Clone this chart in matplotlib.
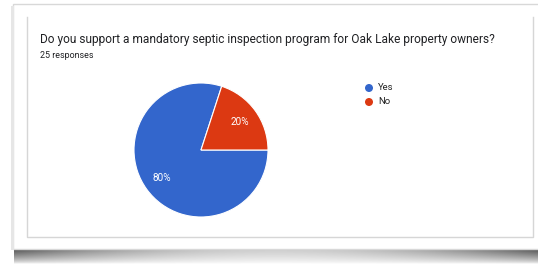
import numpy as np
import matplotlib
matplotlib.use("Agg")
import matplotlib.pyplot as plt
from matplotlib.patches import Rectangle, Circle

title = "Do you support a mandatory septic inspection program for Oak Lake property owners?"
subtitle = "25 responses"
categories = ["Yes", "No"]
values = [80, 20]
colors = ["#3366CC", "#DC3912"]

W, H = 538, 265
fig = plt.figure(figsize=(W / 100, H / 100), dpi=100)
fig.patch.set_facecolor("white")

# background / frame axes in pixel coordinates
bg = fig.add_axes([0, 0, 1, 1])
bg.set_xlim(0, W)
bg.set_ylim(H, 0)
bg.axis("off")

# bottom curled shadow
sh_y0, sh_y1 = 248, 264
xs = np.linspace(0, 1, 400)
ys = np.linspace(0, 1, 40)
X, Y = np.meshgrid(xs, ys)
edge = 0.3 + 0.7 * (np.abs(X - 0.5) * 2) ** 2
vert = np.clip(1 - Y, 0, 1) ** 0.7
dark = edge * vert * 0.7
img = 1 - dark
bg.imshow(img, cmap="gray", vmin=0, vmax=1, extent=(14, W, sh_y1, sh_y0),
          aspect="auto", zorder=0, interpolation="bilinear")

# outer card
bg.add_patch(Rectangle((13, 4), W - 13 + 2, 245, facecolor="white",
                       edgecolor="#d8d8d8", linewidth=1.0, zorder=1))
bg.add_patch(Rectangle((11, 6), 2.5, 244, facecolor="#e6e6e6",
                       edgecolor="none", zorder=1))
# inner card
bg.plot([27, 27, 533, 533], [17, 237, 237, 17], color="#d6d6d6",
        linewidth=1.0, zorder=2)

bg.text(40, 40, title, fontsize=8.6, family="Roboto", color="#202124",
        va="center", ha="left", zorder=3)
bg.text(40, 56, subtitle, fontsize=6.4, family="Roboto", color="#202124",
        va="center", ha="left", zorder=3)

# legend
for i, (cat, col) in enumerate(zip(categories, colors)):
    y = 88 + i * 14
    bg.add_patch(Circle((369, y), 4.0, facecolor=col, edgecolor="none", zorder=3))
    bg.text(378, y, cat, fontsize=6.8, family="Roboto", color="#222222",
            va="center", ha="left", zorder=3)

# pie
cx, cy, r = 201, 150, 67
pax = fig.add_axes([(cx - r) / W, (H - cy - r) / H, 2 * r / W, 2 * r / H])
wedges, texts, autotexts = pax.pie(
    values, colors=colors, startangle=72, counterclock=True,
    autopct="%d%%", pctdistance=0.72,
    wedgeprops=dict(edgecolor="white", linewidth=0.8),
    textprops=dict(color="white", fontsize=7.2, family="Roboto"))
pax.set_xlim(-1, 1)
pax.set_ylim(-1, 1)
pax.set_aspect("equal")
pax.axis("off")

fig.savefig("out.png", dpi=100)
